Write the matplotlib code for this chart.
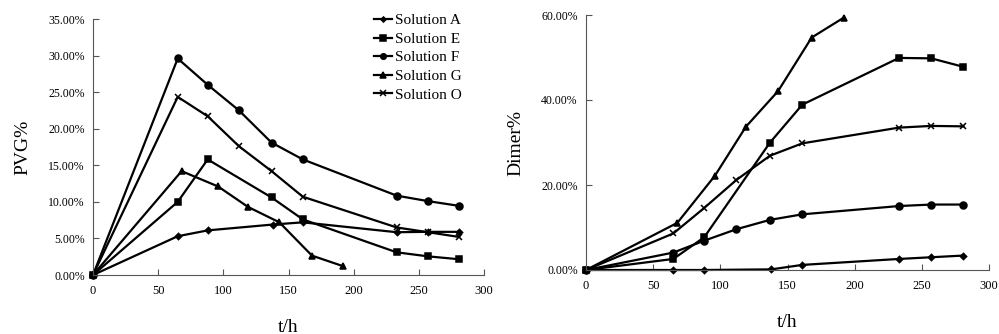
import matplotlib.pyplot as plt
from matplotlib.ticker import FuncFormatter

plt.rcParams['font.family'] = ['Liberation Serif', 'DejaVu Serif']

# sampling times (h)
t_main = [0, 65, 88, 112, 137, 161, 233, 257, 281]
t_A = [0, 65, 88, 138, 161, 233, 257, 281]
t_E = [0, 65, 88, 137, 161, 233, 257, 281]
t_G = [0, 68, 96, 119, 143, 168, 192]

labels = ['Solution A', 'Solution E', 'Solution F', 'Solution G', 'Solution O']
markers = ['D', 's', 'o', '^', 'x']
msizes = [3.2, 5, 5, 5, 5]

# PVG% (left)
pvg_A = [0, 5.3, 6.1, 6.9, 7.2, 5.85, 5.9, 5.9]
pvg_E = [0, 10.0, 15.8, 10.6, 7.6, 3.1, 2.55, 2.15]
pvg_F = [0, 29.6, 26.0, 22.5, 18.1, 15.8, 10.85, 10.1, 9.45]
pvg_G = [0, 14.2, 12.1, 9.3, 7.2, 2.65, 1.2]
pvg_O = [0, 24.35, 21.7, 17.6, 14.2, 10.7, 6.5, 5.85, 5.2]

# Dimer% (right)
dim_A = [0, 0, 0, 0.15, 1.2, 2.6, 3.0, 3.4]
dim_E = [0, 2.6, 7.7, 30.0, 38.9, 49.9, 49.8, 47.8]
dim_F = [0, 4.1, 6.9, 9.6, 11.8, 13.1, 15.05, 15.4, 15.4]
dim_G = [0, 11.1, 22.2, 33.7, 42.1, 54.7, 59.4]
dim_O = [0, 8.6, 14.6, 21.2, 26.9, 29.8, 33.5, 33.9, 33.8]

times = [t_A, t_E, t_main, t_G, t_main]
pvg = [pvg_A, pvg_E, pvg_F, pvg_G, pvg_O]
dim = [dim_A, dim_E, dim_F, dim_G, dim_O]

fig = plt.figure(figsize=(9.99, 3.34), dpi=100)
ax1 = fig.add_axes([93/999, 1 - 275/334, 391/999, 256/334])
ax2 = fig.add_axes([586/999, 1 - 270/334, 403/999, 255/334])

pct = FuncFormatter(lambda v, p: '%.2f%%' % v)

for ax, data, ymax, ystep, ylab in [(ax1, pvg, 35, 5, 'PVG%'), (ax2, dim, 60, 20, 'Dimer%')]:
    for t, y, lab, m, ms in zip(times, data, labels, markers, msizes):
        ax.plot(t, y, color='black', lw=1.6, marker=m, ms=ms, mew=1.1, label=lab)
    ax.set_xlim(0, 300)
    ax.set_ylim(0, ymax)
    ax.set_xticks(range(0, 301, 50))
    ax.set_yticks(range(0, ymax + 1, ystep))
    ax.yaxis.set_major_formatter(pct)
    ax.spines['top'].set_visible(False)
    ax.spines['right'].set_visible(False)
    for s in ['left', 'bottom']:
        ax.spines[s].set_color('#555555')
        ax.spines[s].set_linewidth(0.8)
    ax.tick_params(direction='in', length=4, width=0.8, color='#555555', labelsize=9, pad=7)
    ax.tick_params(axis='y', labelsize=8.5, pad=6)
    ax.set_xlabel('t/h', fontsize=14, labelpad=16)
    ax.set_ylabel(ylab, fontsize=14, labelpad=12)
    for ln in ax.lines:
        ln.set_clip_on(False)

ax1.legend(loc='upper right', bbox_to_anchor=(0.96, 1.045), frameon=False, fontsize=11,
           handlelength=1.2, handletextpad=0.2, labelspacing=0.32, borderaxespad=0,
           markerscale=0.8)

fig.savefig('out.png', dpi=100)
